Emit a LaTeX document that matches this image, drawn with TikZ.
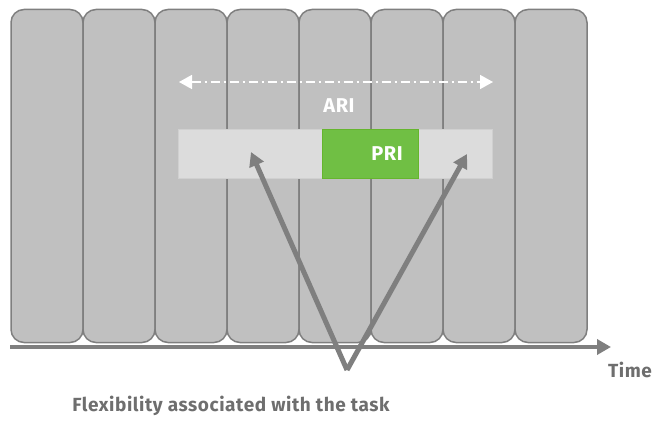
\documentclass[tikz,border=0pt]{standalone}
\usepackage{fontspec}
\setmainfont{Fira Sans}[LetterSpace=3]
\usetikzlibrary{arrows.meta}
\definecolor{colfill}{HTML}{C0C0C0}
\definecolor{coldraw}{HTML}{7F7F7F}
\definecolor{barfill}{HTML}{DCDCDC}
\definecolor{barline}{HTML}{D0D0D0}
\definecolor{prifill}{HTML}{70BF44}
\definecolor{priline}{HTML}{66B52E}
\definecolor{txtgray}{HTML}{6E6E6E}
\tikzset{
  col/.style={draw=coldraw, line width=1.5pt, fill=colfill, rounded corners=13pt,
    minimum width=72pt, minimum height=333pt, inner sep=0pt, outer sep=0pt, anchor=north west},
  graylbl/.style={text=txtgray, font=\fontsize{19}{22}\selectfont\bfseries},
  whitelbl/.style={text=white, font=\fontsize{20}{23}\selectfont\bfseries},
  bigarrow/.style={draw=coldraw, line width=5pt, -{Triangle[length=14pt,width=15pt]}},
}
\begin{document}
\begin{tikzpicture}[x=1pt,y=-1pt]
\useasboundingbox (0,0) rectangle (659,422);
\foreach \i in {0,...,7}{
  \node[col] (c\i) at ({11+72*\i},9.5) {};
}
% axis
\coordinate (axs) at (10,347);
\coordinate (axe) at (611,347);
\draw[coldraw, line width=4.5pt, -{Triangle[length=14pt,width=15pt]}] (axs) -- (axe);
\node[graylbl] (time) at (630,370) {Time};
% ARI interval
\coordinate (aril) at (179,82);
\coordinate (arir) at (493,82);
\draw[white, line width=1.5pt, dash pattern=on 9pt off 4pt on 2pt off 4pt,
  {Triangle[length=13pt,width=14pt]}-{Triangle[length=13pt,width=14pt]}] (aril) -- (arir);
\node[whitelbl] (ari) at (339,106) {ARI};
% bar
\node[draw=barline, line width=0.8pt, fill=barfill, minimum width=314pt, minimum height=49pt,
  inner sep=0pt, anchor=north west] (bar) at (178,129) {};
\node[draw=priline, line width=1pt, fill=prifill, minimum width=96pt, minimum height=49pt,
  inner sep=0pt, anchor=north west] (pri) at (322,129) {};
\node[whitelbl] (pritxt) at (387,154) {PRI};
% flexibility arrows
\coordinate (v) at (347,370);
\coordinate (tl) at (251,152);
\coordinate (tr) at (467,154);
\draw[bigarrow] (v) -- (tl);
\draw[bigarrow] (v) -- (tr);
\node[graylbl] (flex) at (231,406) {Flexibility associated with the task};
\end{tikzpicture}
\end{document}
